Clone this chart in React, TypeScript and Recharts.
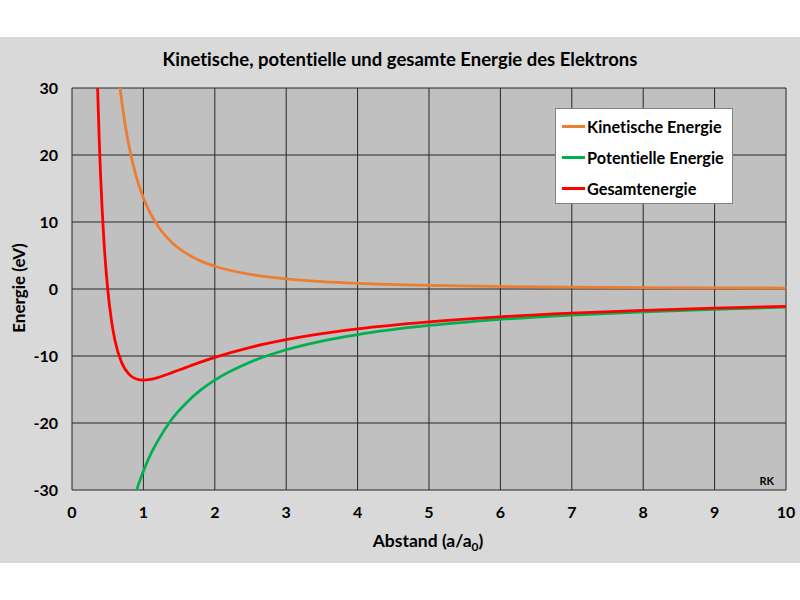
import React from 'react';
import { LineChart, Line, XAxis, YAxis, CartesianGrid, Legend } from 'recharts';

const xTicks = [0, 1, 2, 3, 4, 5, 6, 7, 8, 9, 10];
const yTicks = [-30, -20, -10, 0, 10, 20, 30];

const kineticData = [
  { x: 0.67, y: 30.3 }, { x: 0.7, y: 27.76 }, { x: 0.75, y: 24.18 }, { x: 0.8, y: 21.25 },
  { x: 0.9, y: 16.79 }, { x: 1.0, y: 13.6 }, { x: 1.1, y: 11.24 }, { x: 1.2, y: 9.44 },
  { x: 1.4, y: 6.94 }, { x: 1.6, y: 5.31 }, { x: 1.8, y: 4.2 }, { x: 2, y: 3.4 },
  { x: 2.5, y: 2.18 }, { x: 3, y: 1.51 }, { x: 3.5, y: 1.11 }, { x: 4, y: 0.85 },
  { x: 5, y: 0.54 }, { x: 6, y: 0.38 }, { x: 7, y: 0.28 }, { x: 8, y: 0.21 },
  { x: 9, y: 0.17 }, { x: 10, y: 0.14 },
];

const potentialData = [
  { x: 0.9, y: -30.2 }, { x: 0.95, y: -28.6 }, { x: 1.0, y: -27.2 }, { x: 1.1, y: -24.7 },
  { x: 1.2, y: -22.7 }, { x: 1.4, y: -19.4 }, { x: 1.6, y: -17.0 }, { x: 1.8, y: -15.1 },
  { x: 2, y: -13.6 }, { x: 2.5, y: -10.9 }, { x: 3, y: -9.07 }, { x: 3.5, y: -7.77 },
  { x: 4, y: -6.8 }, { x: 5, y: -5.44 }, { x: 6, y: -4.53 }, { x: 7, y: -3.89 },
  { x: 8, y: -3.4 }, { x: 9, y: -3.02 }, { x: 10, y: -2.72 },
];

const totalData = [
  { x: 0.355, y: 31.3 }, { x: 0.38, y: 22.6 }, { x: 0.4, y: 17.0 }, { x: 0.45, y: 6.7 },
  { x: 0.5, y: 0 }, { x: 0.55, y: -4.5 }, { x: 0.6, y: -7.6 }, { x: 0.7, y: -11.1 },
  { x: 0.8, y: -12.75 }, { x: 0.9, y: -13.43 }, { x: 1.0, y: -13.6 }, { x: 1.1, y: -13.49 },
  { x: 1.2, y: -13.22 }, { x: 1.4, y: -12.49 }, { x: 1.6, y: -11.69 }, { x: 1.8, y: -10.91 },
  { x: 2, y: -10.2 }, { x: 2.5, y: -8.7 }, { x: 3, y: -7.56 }, { x: 3.5, y: -6.66 },
  { x: 4, y: -5.95 }, { x: 5, y: -4.9 }, { x: 6, y: -4.15 }, { x: 7, y: -3.61 },
  { x: 8, y: -3.19 }, { x: 9, y: -2.85 }, { x: 10, y: -2.58 },
];

const seriesNames = ['Kinetische Energie', 'Potentielle Energie', 'Gesamtenergie'];
const seriesColors = ['#ED7D31', '#00B050', '#FF0000'];

const FONT = 'Lato, "Open Sans", sans-serif';
const noLig = { fontVariantLigatures: 'none' as const };

const renderLegend = () => (
  <div
    style={{
      width: 178,
      height: 96,
      boxSizing: 'border-box',
      background: '#ffffff',
      border: '1px solid #808080',
      position: 'relative',
      fontFamily: FONT,
      fontWeight: 700,
      fontSize: 16.3,
      color: '#000',
      fontVariantLigatures: 'none',
    }}
  >
    {seriesNames.map((n, i) => (
      <div
        key={n}
        style={{ position: 'absolute', left: 6, top: 7 + i * 31, height: 20, display: 'flex', alignItems: 'center', whiteSpace: 'nowrap' }}
      >
        <span style={{ display: 'inline-block', width: 23, height: 3, background: seriesColors[i], marginRight: 2 }} />
        <span>{n}</span>
      </div>
    ))}
  </div>
);

export default function App() {
  return (
    <div style={{ position: 'absolute', left: 0, top: 0, width: 800, height: 600, background: '#ffffff', overflow: 'hidden' }}>
      <div style={{ position: 'absolute', left: 0, top: 37, width: 800, height: 526, background: '#d9d9d9' }}>
        <LineChart width={800} height={526} margin={{ top: 51, right: 14, bottom: 43, left: 22 }}>
          <CartesianGrid stroke="#262626" strokeWidth={1} fill="#c0c0c0" fillOpacity={1} />
          <XAxis
            type="number"
            dataKey="x"
            domain={[0, 10]}
            ticks={xTicks}
            allowDataOverflow
            axisLine={false}
            tickLine={false}
            height={30}
            tickMargin={11}
            tick={{ fill: '#000', fontFamily: FONT, fontWeight: 700, fontSize: 16 }}
          />
          <YAxis
            type="number"
            domain={[-30, 30]}
            ticks={yTicks}
            allowDataOverflow
            axisLine={false}
            tickLine={false}
            width={50}
            tickMargin={8}
            tick={{ fill: '#000', fontFamily: FONT, fontWeight: 700, fontSize: 16 }}
          />
          <Legend
            layout="horizontal"
            verticalAlign="middle"
            align="center"
            content={renderLegend}
            wrapperStyle={{ position: 'absolute', left: 555, top: 71, width: 178, height: 96 }}
          />
          <Line data={kineticData} dataKey="y" name={seriesNames[0]} type="monotone" stroke={seriesColors[0]} strokeWidth={2.8} dot={false} isAnimationActive={false} />
          <Line data={potentialData} dataKey="y" name={seriesNames[1]} type="monotone" stroke={seriesColors[1]} strokeWidth={2.8} dot={false} isAnimationActive={false} />
          <Line data={totalData} dataKey="y" name={seriesNames[2]} type="monotone" stroke={seriesColors[2]} strokeWidth={2.8} dot={false} isAnimationActive={false} />
        </LineChart>
      </div>
      <svg width={800} height={600} style={{ position: 'absolute', left: 0, top: 0, pointerEvents: 'none' }}>
        <text x={400} y={66} textAnchor="middle" fontFamily={FONT} fontWeight={700} fontSize={18.5} fill="#000" style={noLig}>
          Kinetische, potentielle und gesamte Energie des Elektrons
        </text>
        <text x={428} y={547} textAnchor="middle" fontFamily={FONT} fontWeight={700} fontSize={17.5} fill="#000" style={noLig}>
          Abstand (a/a<tspan fontSize={12} dy={4}>0</tspan><tspan dy={-4}>)</tspan>
        </text>
        <text
          x={0}
          y={0}
          transform="translate(25 288) rotate(-90)"
          textAnchor="middle"
          fontFamily={FONT}
          fontWeight={700}
          fontSize={17}
          fill="#000"
          style={noLig}
        >
          Energie (eV)
        </text>
        <text x={774} y={485} textAnchor="end" fontFamily={FONT} fontWeight={700} fontSize={11} fill="#000">
          RK
        </text>
      </svg>
    </div>
  );
}
